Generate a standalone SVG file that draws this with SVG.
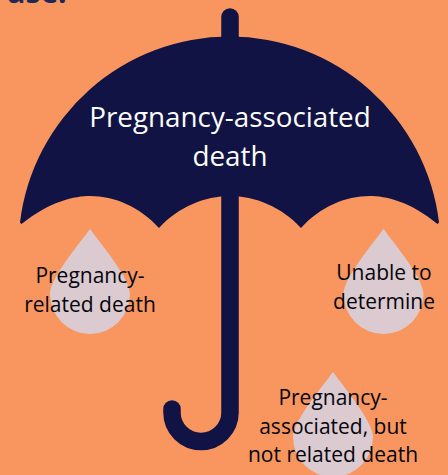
<svg xmlns="http://www.w3.org/2000/svg" width="448" height="475" viewBox="0 0 448 475">
<style>
.navy{fill:#111344}
.drop{fill:#dbcbd0}
.handle{fill:none;stroke:#111344;stroke-width:17.500;stroke-linecap:round}
text{font-family:"Open Sans","Noto Sans","Liberation Sans",sans-serif;text-anchor:middle}
.w{fill:#fff;font-size:27.800px}
.k{fill:#05050c;font-size:21px}
</style>
<rect width="448" height="475" fill="#f9955f"/>
<text x="37" y="3" style="font-size:30px;font-weight:700;fill:#1c2a55">ase:</text>
<g id="drop-left">
<path class="drop" d="M90 229 C80 243 50 278 50 294 A40 40 0 0 0 130 294 C130 278 100 243 90 229Z"/>
<text class="k"><tspan x="90" y="283">Pregnancy-</tspan><tspan x="90" y="312">related death</tspan></text>
</g>
<g id="drop-right">
<path class="drop" d="M383.500 229 C373.500 243 343.500 278 343.500 294 A40 40 0 0 0 423.500 294 C423.500 278 393.500 243 383.500 229Z"/>
<text class="k"><tspan x="384" y="280">Unable to</tspan><tspan x="384" y="309">determine</tspan></text>
</g>
<g id="drop-bottom">
<path class="drop" d="M333 372 C323 386 293 421 293 437 A40 40 0 0 0 373 437 C373 421 343 386 333 372Z"/>
<text class="k"><tspan x="333" y="405">Pregnancy-</tspan><tspan x="333" y="433.500">associated, but</tspan><tspan x="333" y="462">not related death</tspan></text>
</g>
<g id="umbrella">
<path class="handle" d="M230 17V40"/>
<path class="handle" d="M230 190V412.500A29 29 0 0 1 172 412.500V409"/>
<path class="navy" d="M20 222.500A211 211 0 0 1 439 222.500L437.500 224C410 201 385 196 370 196C345 196 320 207 301 228C282 207 255 196 230 196C205 196 178 207 159 228C140 207 115 196 90 196C75 196 50 201 21.500 224Z"/>
<text class="w"><tspan x="230" y="127">Pregnancy-associated</tspan><tspan x="230" y="166">death</tspan></text>
</g>
</svg>
